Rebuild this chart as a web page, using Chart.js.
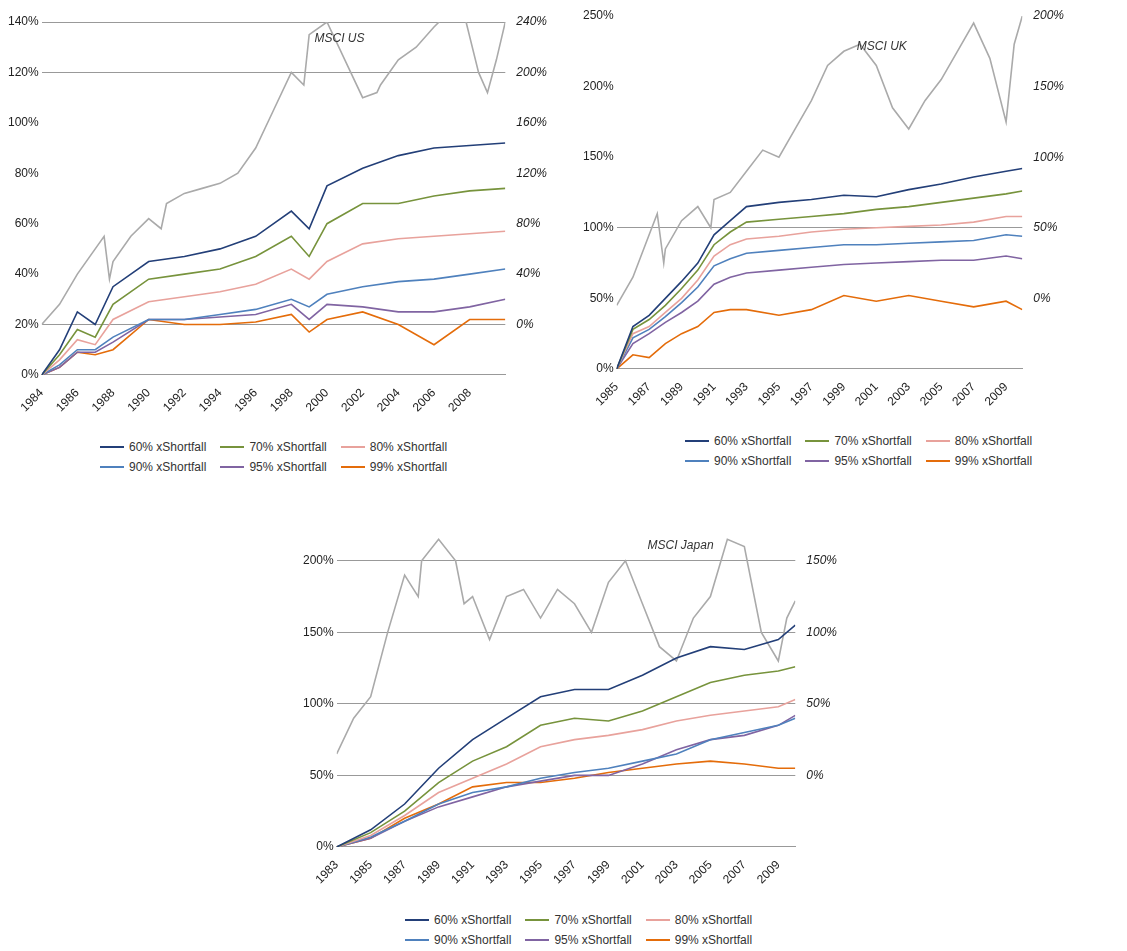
<!DOCTYPE html>
<html>
<head>
<meta charset="utf-8">
<script src="https://cdn.jsdelivr.net/npm/chart.js@4"></script>
<style>
  body { margin: 0; background: #fff; font-family: "Liberation Sans", Arial, sans-serif; }
  .box { position: absolute; }
  .legend { position: absolute; font-size: 12px; color: #333; display: grid; grid-template-columns: repeat(3, auto); column-gap: 14px; row-gap: 6px; }
  .legend span { display: flex; align-items: center; white-space: nowrap; }
  .legend i { display: inline-block; width: 24px; height: 2px; margin-right: 5px; }
</style>
</head>
<body>
<div class="box" style="left:5px;top:8px;width:565px;height:410px"><canvas id="us"></canvas></div>
<div class="legend" id="legUS" style="left:100px;top:440px"></div>
<div class="box" style="left:580px;top:2px;width:547px;height:410px"><canvas id="uk"></canvas></div>
<div class="legend" id="legUK" style="left:685px;top:434px"></div>
<div class="box" style="left:300px;top:522px;width:560px;height:368px"><canvas id="jp"></canvas></div>
<div class="legend" id="legJP" style="left:405px;top:913px"></div>
<script>
const names = ["60% xShortfall", "70% xShortfall", "80% xShortfall", "90% xShortfall", "95% xShortfall", "99% xShortfall"];
const colors = ["#233f78", "#77933c", "#e8a29c", "#4f81bd", "#8064a2", "#e46c0a"];

// MSCI US
const usYears = [1984, 1985, 1986, 1987, 1988, 1990, 1992, 1994, 1996, 1998, 1999, 2000, 2002, 2004, 2006, 2008, 2010];
const us60 = [0, 10, 25, 20, 35, 45, 47, 50, 55, 65, 58, 75, 82, 87, 90, 91, 92];
const us70 = [0, 8, 18, 15, 28, 38, 40, 42, 47, 55, 47, 60, 68, 68, 71, 73, 74];
const us80 = [0, 6, 14, 12, 22, 29, 31, 33, 36, 42, 38, 45, 52, 54, 55, 56, 57];
const us90 = [0, 4, 10, 10, 15, 22, 22, 24, 26, 30, 27, 32, 35, 37, 38, 40, 42];
const us95 = [0, 3, 9, 9, 13, 22, 22, 23, 24, 28, 22, 28, 27, 25, 25, 27, 30];
const us99 = [0, 3, 9, 8, 10, 22, 20, 20, 21, 24, 17, 22, 25, 20, 12, 22, 22];
const usIdxYears = [1984, 1985, 1986, 1987.5, 1987.8, 1988, 1989, 1990, 1990.7, 1991, 1992, 1993, 1994, 1995, 1996, 1997, 1998, 1998.7, 1999, 2000, 2001, 2002, 2002.8, 2003, 2004, 2005, 2006, 2007, 2007.8, 2008.5, 2009, 2009.5, 2010];
const usIdx = [0, 16, 40, 70, 36, 50, 70, 84, 76, 96, 104, 108, 112, 120, 140, 170, 200, 190, 230, 240, 210, 180, 184, 190, 210, 220, 236, 250, 240, 200, 184, 210, 240];

// MSCI UK
const ukYears = [1985, 1986, 1987, 1988, 1989, 1990, 1991, 1992, 1993, 1995, 1997, 1999, 2001, 2003, 2005, 2007, 2009, 2010];
const uk60 = [0, 30, 38, 50, 62, 75, 95, 105, 115, 118, 120, 123, 122, 127, 131, 136, 140, 142];
const uk70 = [0, 28, 35, 45, 57, 70, 88, 97, 104, 106, 108, 110, 113, 115, 118, 121, 124, 126];
const uk80 = [0, 25, 30, 40, 50, 63, 80, 88, 92, 94, 97, 99, 100, 101, 102, 104, 108, 108];
const uk90 = [0, 22, 28, 37, 47, 58, 73, 78, 82, 84, 86, 88, 88, 89, 90, 91, 95, 94];
const uk95 = [0, 18, 25, 33, 40, 48, 60, 65, 68, 70, 72, 74, 75, 76, 77, 77, 80, 78];
const uk99 = [0, 10, 8, 18, 25, 30, 40, 42, 42, 38, 42, 52, 48, 52, 48, 44, 48, 42];
const ukIdxYears = [1985, 1986, 1987, 1987.5, 1987.9, 1988, 1989, 1990, 1990.8, 1991, 1992, 1993, 1994, 1995, 1996, 1997, 1998, 1999, 2000, 2001, 2002, 2003, 2004, 2005, 2006, 2007, 2008, 2009, 2009.5, 2010];
const ukIdx = [-5, 15, 45, 60, 25, 35, 55, 65, 50, 70, 75, 90, 105, 100, 120, 140, 165, 175, 180, 165, 135, 120, 140, 155, 175, 195, 170, 125, 180, 200];

// MSCI Japan
const jpYears = [1983, 1985, 1987, 1989, 1991, 1993, 1995, 1997, 1999, 2001, 2003, 2005, 2007, 2009, 2010];
const jp60 = [0, 12, 30, 55, 75, 90, 105, 110, 110, 120, 132, 140, 138, 145, 155];
const jp70 = [0, 10, 25, 45, 60, 70, 85, 90, 88, 95, 105, 115, 120, 123, 126];
const jp80 = [0, 8, 22, 38, 48, 58, 70, 75, 78, 82, 88, 92, 95, 98, 103];
const jp90 = [0, 7, 18, 30, 38, 42, 48, 52, 55, 60, 65, 75, 80, 85, 90];
const jp95 = [0, 6, 18, 28, 35, 42, 46, 50, 50, 58, 68, 75, 78, 85, 92];
const jp99 = [0, 6, 20, 30, 42, 45, 45, 48, 52, 55, 58, 60, 58, 55, 55];
const jpIdxYears = [1983, 1984, 1985, 1986, 1987, 1987.8, 1988, 1989, 1990, 1990.5, 1991, 1992, 1993, 1994, 1995, 1996, 1997, 1998, 1999, 2000, 2001, 2002, 2003, 2004, 2005, 2006, 2007, 2008, 2009, 2009.5, 2010];
const jpIdx = [15, 40, 55, 100, 140, 125, 150, 165, 150, 120, 125, 95, 125, 130, 110, 130, 120, 100, 135, 150, 120, 90, 80, 110, 125, 165, 160, 100, 80, 110, 122];

const pts = (xs, ys) => xs.map((x, i) => ({ x: x, y: ys[i] }));

const labelPlugin = {
  id: "idxLabel",
  afterDatasetsDraw(chart, args, opts) {
    const c = chart.ctx;
    c.save();
    c.font = "italic 12px 'Liberation Sans', Arial";
    c.fillStyle = "#333";
    c.fillText(opts.text, chart.scales.x.getPixelForValue(opts.x), chart.scales.y.getPixelForValue(opts.y));
    c.restore();
  }
};

function makeChart(id, years, series, idxYears, idx, cfg) {
  const datasets = series.map((s, i) => ({
    label: names[i], data: pts(years, s), borderColor: colors[i], borderWidth: 1.6,
    pointRadius: 0, yAxisID: "y", order: 1
  }));
  datasets.push({ label: "index", data: pts(idxYears, idx), borderColor: "#aaaaaa", borderWidth: 1.6, pointRadius: 0, yAxisID: "y2", order: 5 });
  new Chart(document.getElementById(id), {
    type: "line",
    data: { datasets: datasets },
    plugins: [labelPlugin],
    options: {
      responsive: true, maintainAspectRatio: false, animation: false,
      layout: { padding: cfg.pad },
      plugins: { legend: { display: false }, tooltip: { enabled: false }, idxLabel: cfg.label },
      scales: {
        x: {
          type: "linear", min: cfg.xmin, max: cfg.xmax,
          afterBuildTicks: axis => {
            const t = [];
            for (let v = cfg.xmin; v <= cfg.xlast; v += 2) t.push({ value: v });
            axis.ticks = t;
          },
          ticks: { maxRotation: 45, minRotation: 45, color: "#222", font: { size: 12 }, autoSkip: false,
            callback: v => String(v) },
          grid: { display: false }, border: { color: "#999" }
        },
        y: {
          min: cfg.ymin, max: cfg.ymax,
          ticks: { stepSize: cfg.ystep, color: "#222", font: { size: 12 },
            callback: v => (v % cfg.ystep === 0 ? v + "%" : "") },
          grid: { drawTicks: false, color: c => (cfg.grid.includes(c.tick.value) ? "#999" : "transparent") },
          border: { display: false }
        },
        y2: {
          position: "right", min: cfg.y2min, max: cfg.y2max,
          ticks: { stepSize: cfg.y2step, color: "#222", font: { size: 12, style: "italic" },
            callback: v => (v >= 0 && v % cfg.y2step === 0 ? v + "%" : "") },
          grid: { display: false }, border: { display: false }
        }
      }
    }
  });
}

makeChart("us", usYears, [us60, us70, us80, us90, us95, us99], usIdxYears, usIdx, {
  xmin: 1984, xmax: 2010, xlast: 2008, ymin: 0, ymax: 140, ystep: 20, y2min: -40, y2max: 240, y2step: 40,
  grid: [20, 120, 140], label: { text: "MSCI US", x: 1999.3, y: 132 }, pad: { top: 14, right: 20 }
});
makeChart("uk", ukYears, [uk60, uk70, uk80, uk90, uk95, uk99], ukIdxYears, ukIdx, {
  xmin: 1985, xmax: 2010, xlast: 2009, ymin: 0, ymax: 250, ystep: 50, y2min: -50, y2max: 200, y2step: 50,
  grid: [100], label: { text: "MSCI UK", x: 1999.8, y: 226 }, pad: { top: 14, right: 60 }
});
makeChart("jp", jpYears, [jp60, jp70, jp80, jp90, jp95, jp99], jpIdxYears, jpIdx, {
  xmin: 1983, xmax: 2010, xlast: 2009, ymin: 0, ymax: 220, ystep: 50, y2min: -50, y2max: 170, y2step: 50,
  grid: [50, 100, 150, 200], label: { text: "MSCI Japan", x: 2001.3, y: 208 }, pad: { top: 0, right: 20 }
});

for (const id of ["legUS", "legUK", "legJP"]) {
  const leg = document.getElementById(id);
  names.forEach((n, i) => {
    const s = document.createElement("span");
    s.innerHTML = '<i style="background:' + colors[i] + '"></i>' + n;
    leg.appendChild(s);
  });
}
</script>
</body>
</html>
